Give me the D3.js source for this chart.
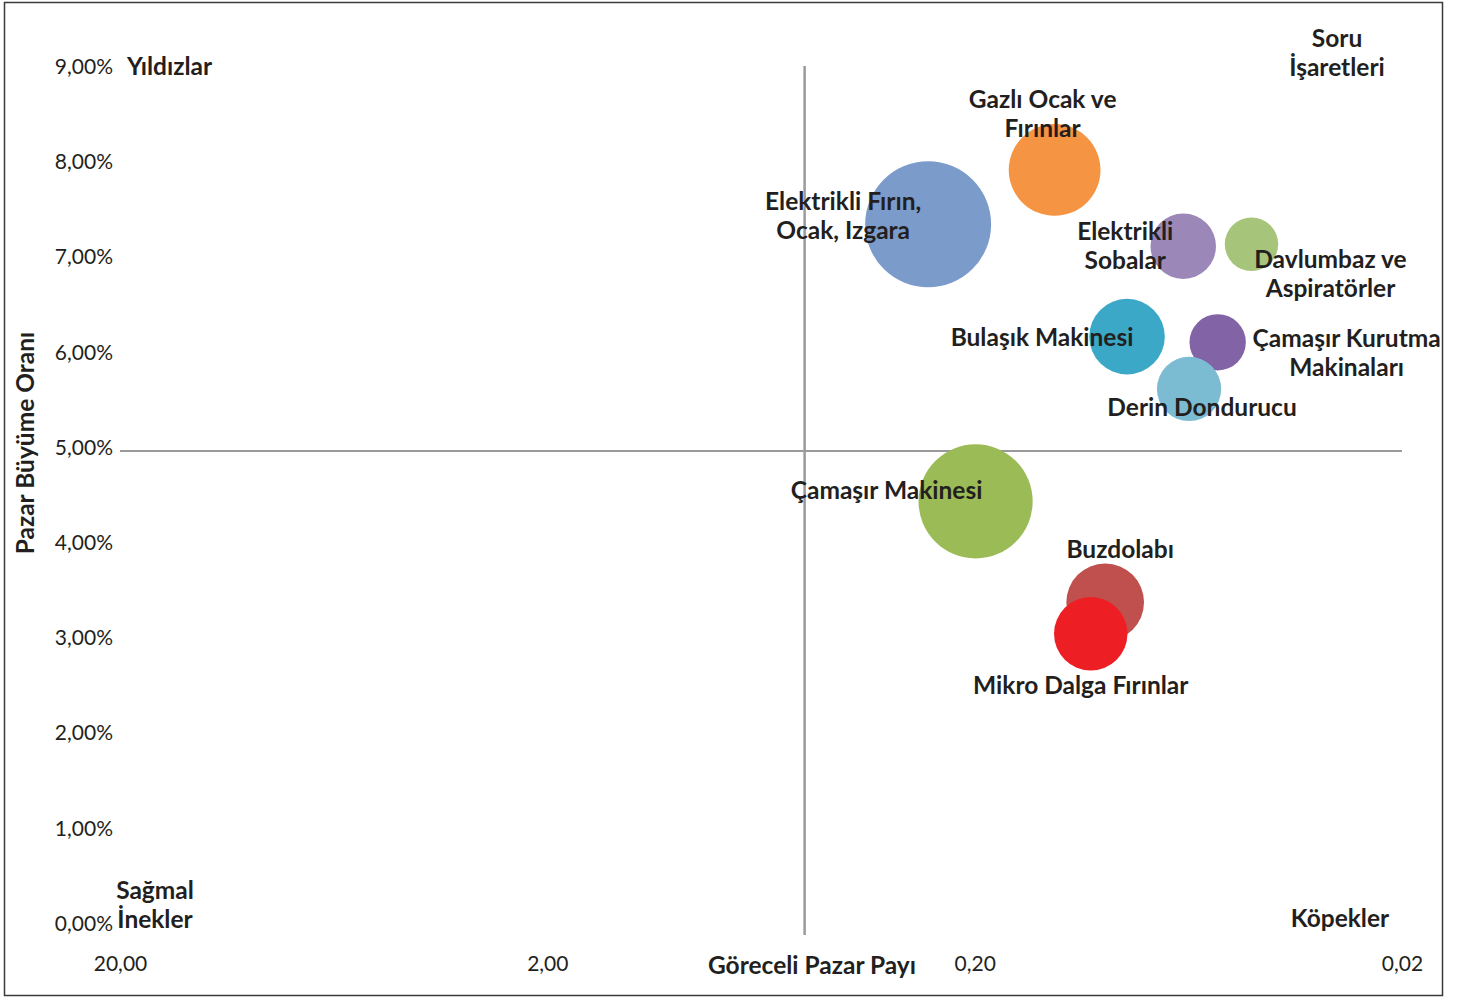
<!DOCTYPE html>
<html>
<head>
<meta charset="utf-8">
<script src="https://cdn.jsdelivr.net/npm/d3@7"></script>
<style>
  html, body { margin: 0; padding: 0; background: #fff; }
  svg { display: block; }
  text { font-family: Lato, "Open Sans", sans-serif; fill: #231f20; }
</style>
</head>
<body>
<svg id="chart" width="1461" height="998"></svg>
<script>
// Product groups (BCG growth/share matrix)
const products = [
  "Elektrikli Fırın, Ocak, Izgara",
  "Gazlı Ocak ve Fırınlar",
  "Elektrikli Sobalar",
  "Davlumbaz ve Aspiratörler",
  "Bulaşık Makinesi",
  "Çamaşır Kurutma Makinaları",
  "Derin Dondurucu",
  "Çamaşır Makinesi",
  "Buzdolabı",
  "Mikro Dalga Fırınlar"
];
// Relative market share (log axis, reversed)
const relativeShare = [0.257, 0.130, 0.065, 0.045, 0.088, 0.054, 0.063, 0.199, 0.099, 0.107];
// Market growth rate (%)
const growthRate = [7.38, 7.95, 7.15, 7.17, 6.20, 6.14, 5.65, 4.47, 3.41, 3.08];
// Relative market size (bubble area)
const marketSize = [100, 53, 27, 18, 36, 20, 26, 82, 38, 34];

const xTickValues = [20, 2, 0.2, 0.02];
const xTickLabels = ["20,00", "2,00", "0,20", "0,02"];
const yTickValues = [0, 1, 2, 3, 4, 5, 6, 7, 8, 9];
const yTickLabels = ["0,00%", "1,00%", "2,00%", "3,00%", "4,00%", "5,00%", "6,00%", "7,00%", "8,00%", "9,00%"];
const shareDivider = 0.5;
const growthDivider = 5;

const quadrantNames = [["Yıldızlar"], ["Soru", "İşaretleri"], ["Sağmal", "İnekler"], ["Köpekler"]];
const xTitle = "Göreceli Pazar Payı";
const yTitle = "Pazar Büyüme Oranı";

// ---- styling and layout ----
const colors = ["#7b9bcb", "#f59443", "#9b88b9", "#a6c57a", "#3aa8c6",
                "#8163a6", "#7bbcd3", "#9bbb57", "#c0504d", "#ee1f24"];
// label lines and offsets of the label block centre from the bubble centre
const labelLayout = [
  { lines: ["Elektrikli Fırın,", "Ocak, Izgara"], dx: -85, dy: -8 },
  { lines: ["Gazlı Ocak ve", "Fırınlar"], dx: -12, dy: -56 },
  { lines: ["Elektrikli", "Sobalar"], dx: -58, dy: 0 },
  { lines: ["Davlumbaz ve", "Aspiratörler"], dx: 79, dy: 30 },
  { lines: ["Bulaşık Makinesi"], dx: -85, dy: 1 },
  { lines: ["Çamaşır Kurutma", "Makinaları"], dx: 129, dy: 11 },
  { lines: ["Derin Dondurucu"], dx: 13, dy: 18 },
  { lines: ["Çamaşır Makinesi"], dx: -89, dy: -11 },
  { lines: ["Buzdolabı"], dx: 15, dy: -53 },
  { lines: ["Mikro Dalga Fırınlar"], dx: -10, dy: 52 }
];
const labelSize = 24.5;
const lineHeight = 29;

const svg = d3.select("#chart");

// outer frame
svg.append("rect")
  .attr("x", 4.5).attr("y", 2.5).attr("width", 1438).attr("height", 993)
  .attr("fill", "#fff").attr("stroke", "#3a3a3a").attr("stroke-width", 1.5);

const x = d3.scaleLog().domain([20, 0.02]).range([120, 1402]);
const y = d3.scaleLinear().domain([0, 9]).range([927, 70]);
const r = d3.scaleSqrt().domain([0, d3.max(marketSize)]).range([0, 63]);

// y axis tick labels
const yAxis = d3.axisLeft(y)
  .tickValues(yTickValues)
  .tickFormat((d, i) => yTickLabels[i])
  .tickSize(0).tickPadding(0);
const yg = svg.append("g").attr("transform", "translate(113,-4)").call(yAxis);
yg.select(".domain").remove();
yg.selectAll("text").attr("font-size", 21).attr("font-family", "Lato, sans-serif")
  .attr("fill", "#333").attr("dy", "0.35em");

// x axis tick labels
const xAxis = d3.axisBottom(x)
  .tickValues(xTickValues)
  .tickFormat((d, i) => xTickLabels[i])
  .tickSize(0).tickPadding(0);
const xg = svg.append("g").attr("transform", "translate(0,964)").call(xAxis);
xg.select(".domain").remove();
xg.selectAll("text").attr("font-size", 21).attr("font-family", "Lato, sans-serif")
  .attr("fill", "#333").attr("dy", "0.35em");

// quadrant divider lines
svg.append("line")
  .attr("x1", x(20)).attr("x2", x(0.02))
  .attr("y1", y(growthDivider)).attr("y2", y(growthDivider))
  .attr("stroke", "#9a9a9a").attr("stroke-width", 2);
svg.append("line")
  .attr("x1", x(shareDivider)).attr("x2", x(shareDivider))
  .attr("y1", y(9) - 4).attr("y2", y(0) + 8)
  .attr("stroke", "#9a9a9a").attr("stroke-width", 2.5);

// bubbles
svg.append("g").selectAll("circle")
  .data(products)
  .join("circle")
  .attr("cx", (d, i) => x(relativeShare[i]))
  .attr("cy", (d, i) => y(growthRate[i]))
  .attr("r", (d, i) => r(marketSize[i]))
  .attr("fill", (d, i) => colors[i]);

// multi-line centred bold labels
function multiLine(g, lines, cx, cy, anchor) {
  const t = g.append("text")
    .attr("text-anchor", anchor)
    .attr("font-size", labelSize)
    .attr("font-weight", 700);
  const n = lines.length;
  lines.forEach((ln, k) => {
    t.append("tspan")
      .attr("x", cx)
      .attr("y", cy + (k - (n - 1) / 2) * lineHeight)
      .attr("dy", "0.35em")
      .text(ln);
  });
  return t;
}

// bubble labels
const lg = svg.append("g");
products.forEach((p, i) => {
  const L = labelLayout[i];
  multiLine(lg, L.lines, x(relativeShare[i]) + L.dx, y(growthRate[i]) + L.dy, "middle");
});

// quadrant names
const qg = svg.append("g");
multiLine(qg, quadrantNames[0], 127, 66, "start");
multiLine(qg, quadrantNames[1], 1337, 53, "middle");
multiLine(qg, quadrantNames[2], 155, 905, "middle");
multiLine(qg, quadrantNames[3], 1340, 918, "middle");

// axis titles
svg.append("text")
  .attr("x", 812).attr("y", 965).attr("dy", "0.35em")
  .attr("text-anchor", "middle").attr("font-size", labelSize).attr("font-weight", 700)
  .text(xTitle);
svg.append("text")
  .attr("transform", "translate(25,443) rotate(-90)")
  .attr("dy", "0.35em")
  .attr("text-anchor", "middle").attr("font-size", labelSize).attr("font-weight", 700)
  .text(yTitle);
</script>
</body>
</html>
